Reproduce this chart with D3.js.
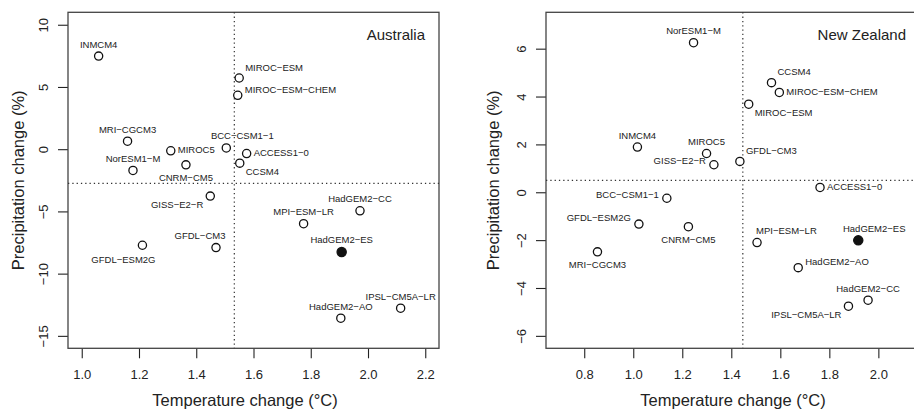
<!DOCTYPE html>
<html>
<head>
<meta charset="utf-8">
<script src="https://cdn.jsdelivr.net/npm/d3@7"></script>
<style>
  html, body { margin: 0; padding: 0; background: #fff; }
  svg { display: block; }
  text { font-family: "Liberation Sans", Arial, sans-serif; fill: #222; }
</style>
</head>
<body>
<svg id="chart" width="914" height="414"></svg>
<script>
// ---------------- DATA ----------------
const ausModels = ["INMCM4","MIROC-ESM","MIROC-ESM-CHEM","MRI-CGCM3","MIROC5","BCC-CSM1-1","ACCESS1-0","NorESM1-M","CNRM-CM5","CCSM4","GISS-E2-R","HadGEM2-CC","MPI-ESM-LR","HadGEM2-ES","GFDL-ESM2G","GFDL-CM3","IPSL-CM5A-LR","HadGEM2-AO"];
const ausTemp   = [1.059, 1.550, 1.545, 1.160, 1.311, 1.505, 1.576, 1.179, 1.364, 1.552, 1.449, 1.972, 1.775, 1.908, 1.212, 1.469, 2.114, 1.905];
const ausPrecip = [7.48, 5.72, 4.33, 0.64, -0.13, 0.10, -0.35, -1.71, -1.26, -1.12, -3.77, -4.95, -5.99, -8.26, -7.72, -7.91, -12.78, -13.58];
const ausLabelPos = ["N","NE","ENE","N","E","NNE","E","N","S","SE","SW","N","N","N","SSW","NNW","N","N"];
const ausMeanTemp = 1.533, ausMeanPrecip = -2.74;
const ausXTicks = [1.0, 1.2, 1.4, 1.6, 1.8, 2.0, 2.2];
const ausYTicks = [-15, -10, -5, 0, 5, 10];

const nzModels = ["NorESM1-M","CCSM4","MIROC-ESM-CHEM","MIROC-ESM","INMCM4","MIROC5","GISS-E2-R","GFDL-CM3","ACCESS1-0","BCC-CSM1-1","GFDL-ESM2G","CNRM-CM5","MRI-CGCM3","MPI-ESM-LR","HadGEM2-ES","HadGEM2-AO","HadGEM2-CC","IPSL-CM5A-LR"];
const nzTemp   = [1.246, 1.564, 1.596, 1.471, 1.017, 1.299, 1.329, 1.435, 1.762, 1.137, 1.023, 1.225, 0.854, 1.505, 1.918, 1.673, 1.958, 1.878];
const nzPrecip = [6.25, 4.58, 4.17, 3.68, 1.89, 1.62, 1.15, 1.29, 0.20, -0.25, -1.33, -1.44, -2.49, -2.10, -2.01, -3.15, -4.51, -4.76];
const nzLabelPos = ["N","NE","E","SE","N","N","W","NE","E","W","WNW","S","S","NE0","NNE","ENE","N","SW"];
const nzMeanTemp = 1.447, nzMeanPrecip = 0.50;
const nzXTicks = [0.8, 1.0, 1.2, 1.4, 1.6, 1.8, 2.0];
const nzYTicks = [-6, -4, -2, 0, 2, 4, 6];

const highlightModel = "HadGEM2-ES";
const xTitle = "Temperature change (°C)";
const yTitle = "Precipitation change (%)";

// ---------------- LAYOUT ----------------
const anchorOffsets = {
  N:   {anchor: "middle", dx: 0,   dy: -12},
  NNE: {anchor: "middle", dx: 16,  dy: -12},
  NNW: {anchor: "middle", dx: -16, dy: -12},
  S:   {anchor: "middle", dx: 0,   dy: 13},
  SSW: {anchor: "middle", dx: -19, dy: 14},
  E:   {anchor: "start",  dx: 7,   dy: -1},
  ENE: {anchor: "start",  dx: 7,   dy: -6},
  NE:  {anchor: "start",  dx: 6,   dy: -11},
  NE0: {anchor: "start",  dx: -1,  dy: -12},
  SE:  {anchor: "start",  dx: 6,   dy: 8},
  W:   {anchor: "end",    dx: -8,  dy: -4},
  WNW: {anchor: "end",    dx: -8,  dy: -7},
  SW:  {anchor: "end",    dx: -7,  dy: 8}
};

const minus = s => String(s).replace(/-/g, "\u2212");
const svg = d3.select("#chart");

function panel(cfg) {
  const x = d3.scaleLinear().domain(cfg.xDomain).range([cfg.left, cfg.right]);
  const y = d3.scaleLinear().domain(cfg.yDomain).range([cfg.bottom, cfg.top]);
  const g = svg.append("g");

  // x axis
  const xa = g.append("g").attr("transform", `translate(0,${cfg.bottom})`)
    .call(d3.axisBottom(x).tickValues(cfg.xTicks).tickSize(10).tickPadding(11).tickFormat(d3.format(".1f")));
  xa.select(".domain").remove();
  xa.selectAll(".tick line").attr("stroke", "#222").attr("stroke-width", 1.1);
  xa.selectAll(".tick text").style("font-size", "13px").attr("fill", "#222");

  // y axis
  const ya = g.append("g").attr("transform", `translate(${cfg.left},0)`)
    .call(d3.axisLeft(y).tickValues(cfg.yTicks).tickSize(10).tickFormat(d => minus(d)));
  ya.select(".domain").remove();
  ya.selectAll(".tick line").attr("stroke", "#222").attr("stroke-width", 1.1);
  ya.selectAll(".tick text")
    .style("font-size", "13px").attr("fill", "#222")
    .attr("transform", "rotate(-90)")
    .attr("x", 0).attr("y", -24.5).attr("dy", null)
    .attr("dominant-baseline", "central")
    .attr("text-anchor", "middle");

  // box
  g.append("rect")
    .attr("x", cfg.left).attr("y", cfg.top)
    .attr("width", cfg.right - cfg.left).attr("height", cfg.bottom - cfg.top)
    .attr("fill", "none").attr("stroke", "#444").attr("stroke-width", 1.3);

  // mean reference lines
  g.append("line")
    .attr("x1", x(cfg.meanT)).attr("x2", x(cfg.meanT))
    .attr("y1", cfg.top).attr("y2", cfg.bottom)
    .attr("stroke", "#333").attr("stroke-width", 1.2).attr("stroke-dasharray", "1.3,3");
  g.append("line")
    .attr("x1", cfg.left).attr("x2", cfg.right)
    .attr("y1", y(cfg.meanP)).attr("y2", y(cfg.meanP))
    .attr("stroke", "#333").attr("stroke-width", 1.2).attr("stroke-dasharray", "1.3,3");

  const data = cfg.models.map((m, i) => ({m, t: cfg.temp[i], p: cfg.precip[i], pos: cfg.labelPos[i]}));

  g.selectAll("circle.pt").data(data).join("circle")
    .attr("class", "pt")
    .attr("cx", d => x(d.t)).attr("cy", d => y(d.p))
    .attr("r", d => d.m === highlightModel ? 4.6 : 4.1)
    .attr("fill", d => d.m === highlightModel ? "#111" : "#fff")
    .attr("stroke", "#111").attr("stroke-width", 1.3);

  g.selectAll("text.lab").data(data).join("text")
    .attr("class", "lab")
    .attr("x", d => x(d.t) + anchorOffsets[d.pos].dx)
    .attr("y", d => y(d.p) + anchorOffsets[d.pos].dy)
    .attr("text-anchor", d => anchorOffsets[d.pos].anchor)
    .attr("dominant-baseline", "central")
    .style("font-size", "9.5px")
    .text(d => minus(d.m));

  // region title
  g.append("text")
    .attr("x", cfg.titleX).attr("y", 34)
    .attr("text-anchor", "end").attr("dominant-baseline", "central")
    .style("font-size", "15px").attr("fill", "#111")
    .text(cfg.title);

  // axis titles
  g.append("text")
    .attr("x", cfg.xTitleX).attr("y", 400)
    .attr("text-anchor", "middle").attr("dominant-baseline", "central")
    .style("font-size", "16.5px").attr("fill", "#111")
    .text(xTitle);
  g.append("text")
    .attr("transform", `translate(${cfg.yTitleX},${(cfg.top + cfg.bottom) / 2}) rotate(-90)`)
    .attr("text-anchor", "middle").attr("dominant-baseline", "central")
    .style("font-size", "16.5px").attr("fill", "#111")
    .text(yTitle);
}

panel({
  models: ausModels, temp: ausTemp, precip: ausPrecip, labelPos: ausLabelPos,
  meanT: ausMeanTemp, meanP: ausMeanPrecip,
  xTicks: ausXTicks, yTicks: ausYTicks,
  xDomain: [0.952, 2.248], yDomain: [-16, 11],
  left: 68, right: 439, top: 12.3, bottom: 348.3,
  title: "Australia", titleX: 425,
  xTitleX: 245, yTitleX: 17.5
});

panel({
  models: nzModels, temp: nzTemp, precip: nzPrecip, labelPos: nzLabelPos,
  meanT: nzMeanTemp, meanP: nzMeanPrecip,
  xTicks: nzXTicks, yTicks: nzYTicks,
  xDomain: [0.644, 2.156], yDomain: [-6.52, 7.52],
  left: 546, right: 916.6, top: 12.3, bottom: 348.3,
  title: "New Zealand", titleX: 906,
  xTitleX: 733, yTitleX: 493
});
</script>
</body>
</html>
